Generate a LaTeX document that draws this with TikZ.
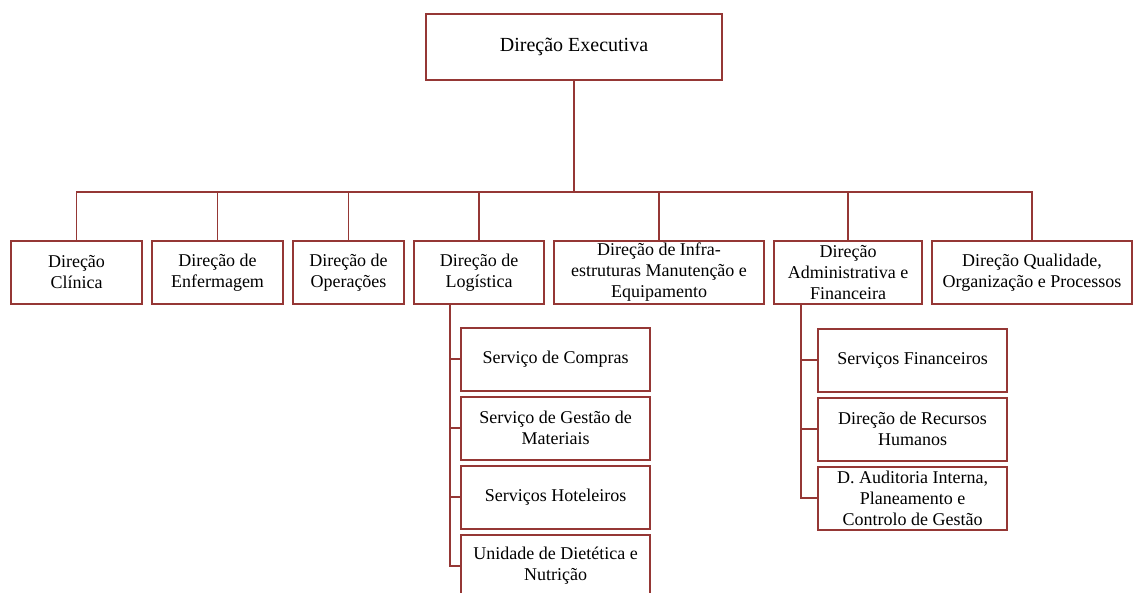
\documentclass[tikz,border=0pt]{standalone}
\usepackage{fontspec}
\setmainfont{Liberation Serif}
\usetikzlibrary{positioning}
\definecolor{orgred}{RGB}{149,55,53}
\tikzset{
  unit/.style={draw=orgred, line width=2pt, align=center, inner sep=0pt, outer sep=0pt,
    minimum height=63pt, font=\fontsize{18}{21}\selectfont},
  link/.style={draw=orgred, line width=1.8pt},
}
\begin{document}
\begin{tikzpicture}[x=1pt, y=-1pt, node distance=10pt]
    \useasboundingbox (0,0) rectangle (1134,593);
    \node[unit, minimum width=296pt, minimum height=66pt, font=\fontsize{20}{24}\selectfont] (exec) at (574,47) {Direção Executiva};

    % first level
    \node[unit, minimum width=131pt] (clin) at (76.5,272.5) {Direção\\Clínica};
    \node[unit, minimum width=131pt, right=of clin] (enf) {Direção de\\Enfermagem};
    \node[unit, minimum width=111pt, right=of enf] (oper) {Direção de\\Operações};
    \node[unit, minimum width=130pt, right=of oper] (log) {Direção de\\Logística};
    \node[unit, minimum width=210pt, right=of log] (infra) {Direção de Infra-\\estruturas Manutenção e\\Equipamento};
    \node[unit, minimum width=148pt, right=of infra] (adm) {Direção\\Administrativa e\\Financeira};
    \node[unit, minimum width=200pt, right=of adm] (qual) {Direção Qualidade,\\Organização e Processos};

    % under logistica
    \node[unit, minimum width=189pt] (comp) at (555.5,359) {Serviço de Compras};
    \node[unit, minimum width=189pt, below=6pt of comp] (gest) {Serviço de Gestão de\\Materiais};
    \node[unit, minimum width=189pt, below=6pt of gest] (hot) {Serviços Hoteleiros};
    \node[unit, minimum width=189pt, below=6pt of hot] (nutr) {Unidade de Dietética e\\Nutrição};

    % under administrativa
    \node[unit, minimum width=189pt] (fin) at (912.5,360) {Serviços Financeiros};
    \node[unit, minimum width=189pt, below=6pt of fin] (rh) {Direção de Recursos\\Humanos};
    \node[unit, minimum width=189pt, below=6pt of rh] (aud) {D.\ Auditoria Interna,\\Planeamento e\\Controlo de Gestão};

    \coordinate (bus) at (574,192);
    \draw[link] (exec.south) -- (bus);
    \foreach \n in {clin,enf,oper,log,infra,adm,qual}
        \draw[link] (bus) -| (\n.north);
    \foreach \n in {comp,gest,hot,nutr}
        \draw[link] ([xshift=36pt]log.south west) |- (\n.west);
    \foreach \n in {fin,rh,aud}
        \draw[link] ([xshift=27pt]adm.south west) |- (\n.west);
\end{tikzpicture}
\end{document}
